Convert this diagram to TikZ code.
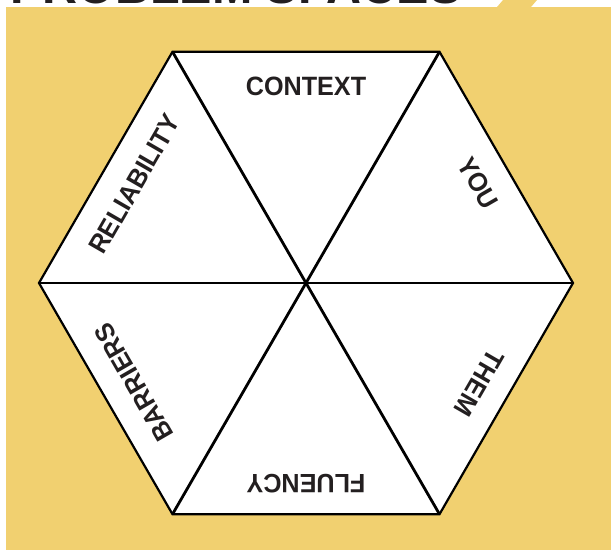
\documentclass[tikz,border=0pt]{standalone}
\usepackage{fontspec}
\setmainfont{Liberation Sans}
\newfontfamily\spacefont[FakeStretch=0.95]{Liberation Sans}
\usepackage{xcolor}
\definecolor{PanelGold}{HTML}{F1D070}
\definecolor{LabelInk} {HTML}{231F20}
\usetikzlibrary{positioning}

\begin{document}
\begin{tikzpicture}[x=1pt,y=1pt,
  rim/.style={draw=black,fill=white,line width=2.2pt,line join=miter},
  spoke/.style={draw=black,line width=2.8pt},
  space/.style={font=\spacefont\bfseries\fontsize{26.5}{26.5}\selectfont,
    text=LabelInk,inner sep=0pt},
  banner/.style={font=\spacefont\bfseries\fontsize{51}{51}\selectfont,
    text=LabelInk,inner sep=0pt}]
  \useasboundingbox (0,0) rectangle (611,550);
  \clip (0,0) rectangle (611,550);
  % Panel
  \fill[PanelGold] (6,0) rectangle (611,543);
  \fill[PanelGold] (497,543) -- (503,550) -- (537,550) -- (531,543) -- cycle;
  \node[banner,anchor=base west](title) at (10,546.5) {PROBLEM SPACES};
  % Hexagon
  \coordinate (O) at (306,267);
  \coordinate (V0) at ([shift={(0:267)}]O);
  \coordinate (V1) at ([shift={(60:267)}]O);
  \coordinate (V2) at ([shift={(120:267)}]O);
  \coordinate (V3) at ([shift={(180:267)}]O);
  \coordinate (V4) at ([shift={(240:267)}]O);
  \coordinate (V5) at ([shift={(300:267)}]O);
  \path[rim] (V0)--(V1)--(V2)--(V3)--(V4)--(V5)--cycle;
  \draw[spoke] (V0)--(V3);
  \draw[spoke] (V1)--(V4);
  \draw[spoke] (V2)--(V5);
  % Labels
  \node[space,rotate=0]   (context)     at ([shift={(90:197)}]O)  {CONTEXT};
  \node[space,rotate=-60] (you)         at ([shift={(30:199)}]O)  {YOU};
  \node[space,rotate=-120](them)        at ([shift={(-30:200)}]O) {THEM};
  \node[space,rotate=180] (fluency)     at ([shift={(-90:201)}]O) {FLUENCY};
  \node[space,rotate=120] (barriers)    at ([shift={(210:199)}]O) {BARRIERS};
  \node[space,rotate=60]  (reliability) at ([shift={(150:198)}]O) {RELIABILITY};
\end{tikzpicture}
\end{document}
